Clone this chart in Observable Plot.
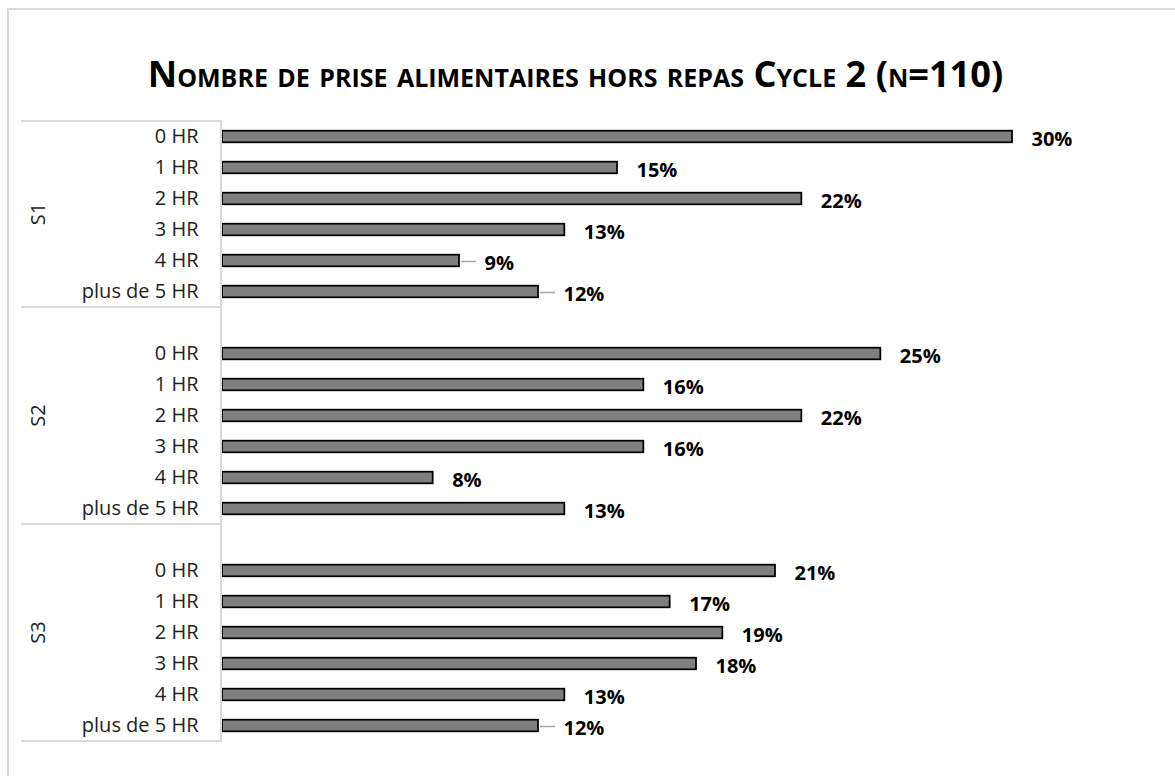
<!DOCTYPE html>
<html><head><meta charset="utf-8">
<script src="https://cdn.jsdelivr.net/npm/d3@7"></script>
<script src="https://cdn.jsdelivr.net/npm/@observablehq/plot@0.6"></script>
<style>
html,body{margin:0;padding:0;background:#fff;}
#wrap{position:relative;width:1175px;height:776px;overflow:hidden;}
#border{position:absolute;left:7px;top:8px;right:-4px;bottom:-4px;border-left:2px solid #d9d9d9;border-top:2px solid #d9d9d9;}
#chart{position:absolute;left:0;top:0;}
</style></head><body>
<div id="wrap"><div id="border"></div><div id="chart"></div></div>
<script>
const title = "Nombre de prise alimentaires hors repas Cycle 2 (n=110)";
const groups = ["S1", "S2", "S3"];
const categories = ["0 HR", "1 HR", "2 HR", "3 HR", "4 HR", "plus de 5 HR"];
const valuesS1 = [30, 15, 22, 13, 9, 12];
const valuesS2 = [25, 16, 22, 16, 8, 13];
const valuesS3 = [21, 17, 19, 18, 13, 12];
const groupHasBlankRow = [false, true, true];
const leaderRows = ["S1|4 HR", "S1|plus de 5 HR", "S3|plus de 5 HR"];

const seriesValues = [valuesS1, valuesS2, valuesS3];
const rows = [];
const yDomain = [];
groups.forEach((g, gi) => {
  if (groupHasBlankRow[gi]) yDomain.push(g + "|");
  categories.forEach((c, ci) => {
    const key = g + "|" + c;
    yDomain.push(key);
    rows.push({group: g, category: c, key, value: seriesValues[gi][ci], leader: leaderRows.includes(key)});
  });
});

function decor(index, scales, values, dims) {
  const y = scales.y, x = scales.x;
  const bw = typeof y.bandwidth === "function" ? y.bandwidth() : (y(yDomain[1]) - y(yDomain[0]));
  const g = d3.create("svg:g");
  const axisX0 = 21, axisX1 = dims.marginLeft - 1;
  const bounds = groups.map(gr => {
    const keys = yDomain.filter(k => k.startsWith(gr + "|"));
    return {gr, top: y(keys[0]), bottom: y(keys[keys.length - 1]) + bw};
  });
  const ys = [bounds[0].top, ...bounds.map(b => b.bottom)];
  g.selectAll("line.sep").data(ys).join("line")
    .attr("x1", axisX0).attr("x2", axisX1).attr("y1", d => d).attr("y2", d => d)
    .attr("stroke", "#d9d9d9").attr("stroke-width", 2);
  g.append("line").attr("x1", axisX1).attr("x2", axisX1)
    .attr("y1", bounds[0].top - 1).attr("y2", bounds[bounds.length - 1].bottom + 1)
    .attr("stroke", "#d9d9d9").attr("stroke-width", 2);
  g.selectAll("text.grp").data(bounds).join("text")
    .attr("transform", d => `translate(38,${(d.top + d.bottom) / 2}) rotate(-90)`)
    .attr("text-anchor", "middle").attr("dy", "0.35em").attr("fill", "#222")
    .attr("font-size", 20)
    .text(d => d.gr);
  rows.filter(r => r.leader).forEach(r => {
    const yc = y(r.key) + bw / 2 + 1;
    g.append("line").attr("x1", x(r.value) + 2).attr("x2", x(r.value) + 17)
      .attr("y1", yc).attr("y2", yc).attr("stroke", "#a6a6a6").attr("stroke-width", 1.5);
  });
  return g.node();
}

const chart = Plot.plot({
  width: 1175, height: 776,
  marginLeft: 222, marginRight: 163, marginTop: 117, marginBottom: 31,
  style: {fontFamily: "'Open Sans', sans-serif", fontSize: "20px", color: "#222", background: "transparent", overflow: "visible"},
  x: {domain: [0, 30], axis: null},
  y: {domain: yDomain, padding: 0, tickSize: 0, tickPadding: 24, tickFormat: d => d.split("|")[1], label: null},
  marks: [
    Plot.barX(rows, {x: "value", y: "key", fill: "#7f7f7f", stroke: "#000", strokeWidth: 1.75, insetTop: 9.7, insetBottom: 9.7}),
    decor,
    Plot.text(rows.filter(d => !d.leader), {x: "value", y: "key", text: d => d.value + "%", dx: 19, dy: 3, textAnchor: "start", fontWeight: "bold", fontSize: 20, fill: "#000"}),
    Plot.text(rows.filter(d => d.leader), {x: "value", y: "key", text: d => d.value + "%", dx: 25, dy: 3, textAnchor: "start", fontWeight: "bold", fontSize: 20, fill: "#000"}),
    Plot.text([title], {frameAnchor: "top", lineAnchor: "middle", dx: -42, dy: -42, fontSize: 36.2, fontWeight: "bold", fill: "#000"})
  ]
});
d3.select(chart).selectAll("text").filter(function() { return this.textContent === title; })
  .style("font-variant", "small-caps");
d3.select(chart).selectAll("g[aria-label^='y-axis'] text").attr("font-size", 20);
document.getElementById("chart").appendChild(chart);
</script>
</body></html>
